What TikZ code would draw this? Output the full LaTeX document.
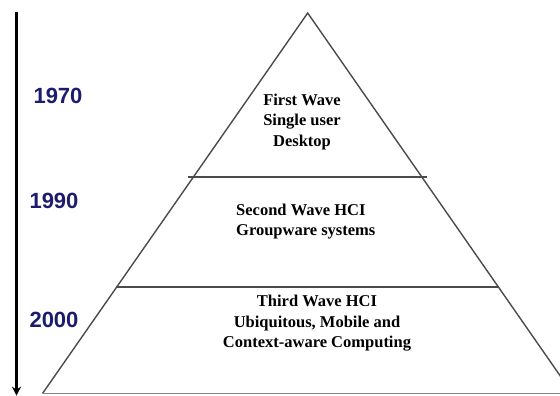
\documentclass[tikz,border=0pt]{standalone}
\usepackage{fontspec}
\setmainfont{Liberation Serif}
\newfontfamily\yearfont{Liberation Sans}
\usetikzlibrary{arrows.meta}
\definecolor{yearblue}{RGB}{28,28,110}
\definecolor{edgegray}{RGB}{75,75,75}
\definecolor{basegray}{RGB}{130,130,130}
\tikzset{
  year/.style={font=\yearfont\bfseries\fontsize{22}{24}\selectfont, text=yearblue, inner sep=0pt},
  wave/.style={font=\bfseries\fontsize{16.5}{20.5}\selectfont, inner sep=0pt, align=center},
  edge/.style={draw=edgegray, line width=1.4pt},
  level/.style={draw=edgegray, line width=1.7pt},
  timeline/.style={draw=black, line width=2.6pt, -{Stealth[length=9pt,width=9pt]}}
}
\begin{document}
\begin{tikzpicture}[x=1pt,y=1pt]
\clip (0,0) rectangle (560,396);
\fill[white] (0,0) rectangle (560,396);
% pyramid corners
\coordinate (apex) at (307.7,383);
\coordinate (bl) at (42.5,2.5);
\coordinate (br) at (572.5,2.5);
\coordinate (l1a) at (188,219.3);
\coordinate (l1b) at (427,219.3);
\coordinate (l2a) at (116,109.3);
\coordinate (l2b) at (499,109.3);
\coordinate (t0) at (16.5,384);
\coordinate (t1) at (16.5,0.3);
% pyramid
\draw[edge] (bl) -- (apex) -- (br);
\draw[draw=basegray, line width=1.5pt] (bl) -- (br);
\draw[level] (l1a) -- (l1b);
\draw[level] (l2a) -- (l2b);
% timeline
\draw[timeline] (t0) -- (t1);
% years
\node[year] (y1970) at (58,300.2) {1970};
\node[year] (y1990) at (54,195.5) {1990};
\node[year] (y2000) at (54,76.5) {2000};
% wave texts
\node[wave] (w1) at (302,274) {First Wave\\Single user\\Desktop};
\node[wave, align=left, anchor=west] (w2) at (236,174.5) {Second Wave HCI\\Groupware systems};
\node[wave] (w3) at (317,72.5) {Third Wave HCI\\Ubiquitous, Mobile and\\Context-aware Computing};
\end{tikzpicture}
\end{document}
